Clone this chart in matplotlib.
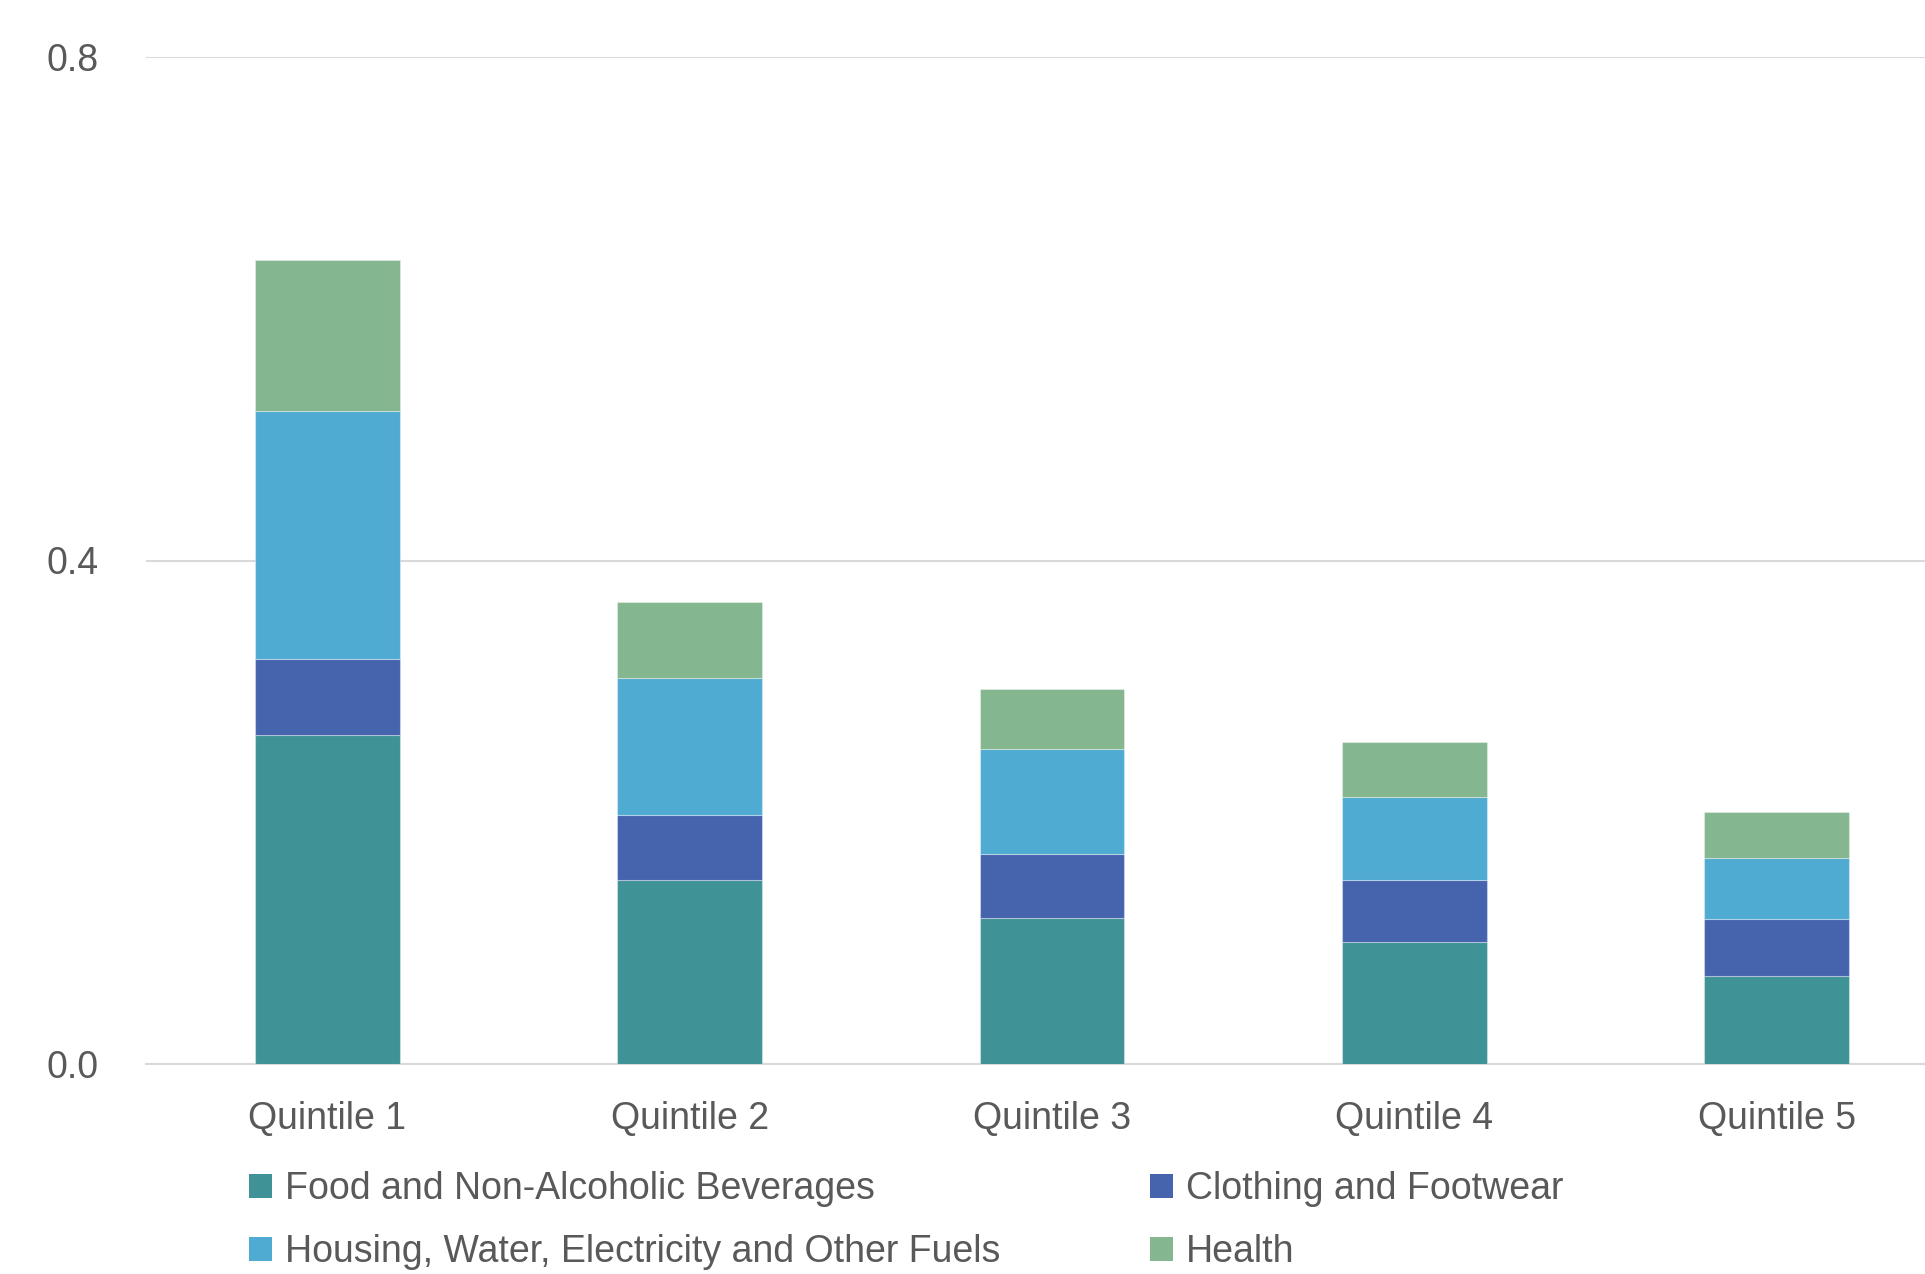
import numpy as np
import matplotlib
matplotlib.use("Agg")
import matplotlib.pyplot as plt
from matplotlib.patches import Patch

plt.rcParams['font.family'] = ['Liberation Sans Narrow', 'Liberation Sans', 'DejaVu Sans']

quintiles = ['Quintile 1', 'Quintile 2', 'Quintile 3', 'Quintile 4', 'Quintile 5']
food = [0.261, 0.146, 0.116, 0.097, 0.070]
clothing = [0.061, 0.052, 0.051, 0.049, 0.045]
housing = [0.197, 0.109, 0.083, 0.066, 0.049]
health = [0.120, 0.060, 0.048, 0.044, 0.036]

series = [
    ('Food and Non-Alcoholic Beverages', food, '#3F9296'),
    ('Clothing and Footwear', clothing, '#4664AE'),
    ('Housing, Water, Electricity and Other Fuels', housing, '#50ABD2'),
    ('Health', health, '#84B68F'),
]

text_color = '#595959'
fs = 27

fig = plt.figure(figsize=(19.25, 12.74), dpi=100)
ax = fig.add_axes([146 / 1925, 1 - 1064 / 1274, 1812 / 1925, (1064 - 57) / 1274])

x = np.arange(len(quintiles))
bottom = np.zeros(len(quintiles))
for name, vals, col in series:
    ax.bar(x, vals, width=0.4, bottom=bottom, color=col, label=name,
           edgecolor=(1, 1, 1, 0.35), linewidth=0.8, zorder=3)
    bottom += np.array(vals)

ax.set_ylim(0, 0.8)
ax.set_xlim(-0.5, 4.5)
ax.set_yticks([0.0, 0.4, 0.8])
ax.set_yticklabels(['0.0', '0.4', '0.8'])
ax.set_xticks(x)
ax.set_xticklabels(quintiles)
ax.tick_params(axis='both', length=0, labelsize=fs, colors=text_color)
ax.tick_params(axis='y', pad=34)
ax.tick_params(axis='x', pad=27)
ax.yaxis.grid(True, color='#D9D9D9', linewidth=1.5, zorder=0)
for s in ['top', 'right', 'left']:
    ax.spines[s].set_visible(False)
ax.spines['bottom'].set_color('#D9D9D9')
ax.spines['bottom'].set_linewidth(1.5)

# legend: column-major order so rows read Food / Clothing, Housing / Health
order = [0, 2, 1, 3]
handles = [Patch(facecolor=series[i][2], label=series[i][0]) for i in order]
leg = fig.legend(handles=handles, ncol=2, loc='upper left',
                 bbox_to_anchor=(249 / 1925, 1 - 1171 / 1274),
                 frameon=False, fontsize=fs, handlelength=0.6, handleheight=0.6,
                 handletextpad=0.35, columnspacing=4.0, labelspacing=0.73,
                 borderaxespad=0, borderpad=0)
for t in leg.get_texts():
    t.set_color(text_color)

fig.savefig('out.png', dpi=100, facecolor='white')
